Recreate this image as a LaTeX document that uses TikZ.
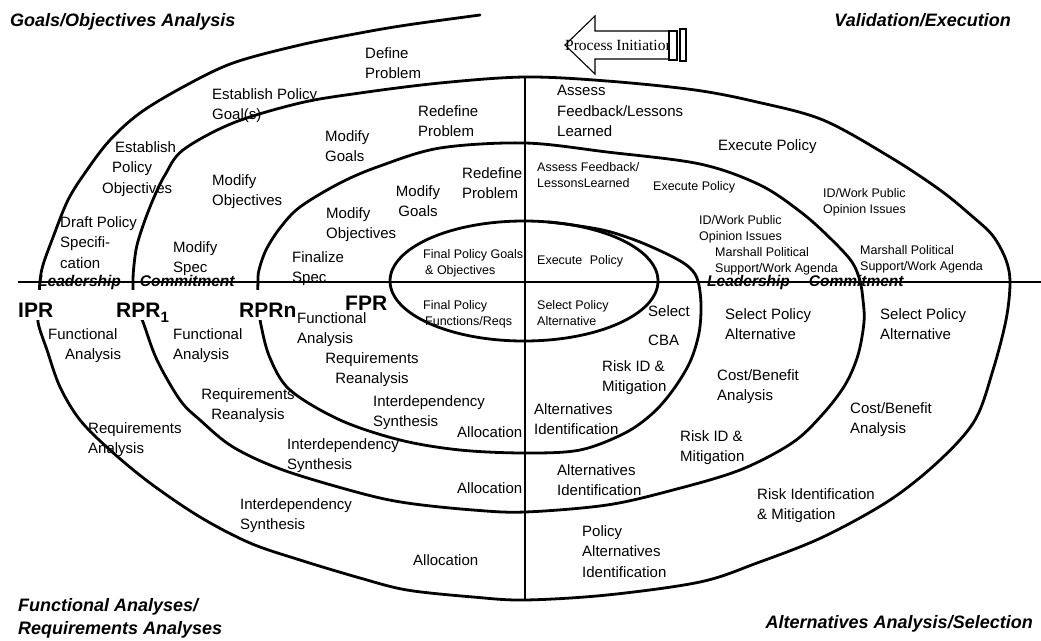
\documentclass[tikz,border=0pt]{standalone}
\usepackage{fontspec}
\setmainfont{Liberation Sans}
\newfontfamily\arrowfont{Liberation Serif}
\begin{document}
\begin{tikzpicture}[x=1pt,y=-1pt,
  lbl/.style={font=\fontsize{15}{20.5}\selectfont, align=left, anchor=north west, inner sep=0pt},
  lblc/.style={lbl, align=center, anchor=north},
  sml/.style={font=\fontsize{12.5}{16.3}\selectfont, align=left, anchor=north west, inner sep=0pt},
  corner/.style={font=\fontsize{18}{23.5}\selectfont\bfseries\itshape, align=left, inner sep=0pt},
  review/.style={font=\fontsize{21}{24}\selectfont\bfseries, anchor=base west, inner sep=0pt},
  reviewgap/.style={review, fill=white, inner xsep=1pt, text height=27pt, text depth=3pt},
  commit/.style={font=\fontsize{15.5}{18}\selectfont\bfseries\itshape, anchor=base west, inner sep=0pt},
  axisline/.style={line width=1.2pt},
  spiral/.style={line width=2.8pt, line cap=round, line join=round},
  arrowline/.style={line width=1.1pt, line join=miter},
]
\fill[white] (0,0) rectangle (1041,640);
\useasboundingbox (0,0) rectangle (1041,640);

% quadrant axes
\coordinate (hL) at (18,282);
\coordinate (hR) at (1041,282);
\coordinate (vT) at (525,77);
\coordinate (vB) at (525,600);
\draw[axisline] (hL) -- (hR);
\draw[axisline] (vT) -- (vB);

% the review spiral, from the initial review inward to the final one
\draw[spiral] plot[smooth, tension=0.55] coordinates {
  (480,15) (407,25) (360,33) (300,45) (233,63) (183,87) (140,113) (110,140)
  (87,170) (68,200) (52,240) (43,265) (40,281)
  (39,300) (38,322) (47,350) (60,387) (80,420) (110,450) (150,483) (200,517)
  (250,543) (300,560) (360,578) (407,590) (473,597) (525,600) (607,595)
  (700,582) (757,563) (823,537) (890,500) (940,460) (975,420) (993,370)
  (1006,320) (1010,283)
  (1006,260) (993,236) (973,217) (940,190) (890,157) (823,120) (757,102)
  (695,90) (607,81) (525,77) (440,83) (360,93) (300,103) (233,123) (183,150)
  (165,175) (155,195) (145,220) (137,245) (134,265) (133,281)
  (134,300) (143,322) (157,360) (180,400) (200,420) (233,447) (283,470)
  (360,493) (407,503) (473,510) (525,512) (607,505) (673,490) (740,470)
  (792,443) (822,415) (845,385) (858,355) (864,322) (863,300) (860,281)
  (852,262) (832,240) (802,213) (760,185) (700,164) (607,152) (525,143)
  (440,148) (380,166) (340,183) (300,207) (280,228) (266,250) (259,270) (258,281)
  (258,300) (261,325) (270,358) (290,390) (340,420) (400,440) (460,450)
  (525,453) (580,450) (625,433) (653,413) (673,390) (690,362) (699,333)
  (701,305) (698,281) (690,268) (673,257) (640,242) (607,231) (573,225) (548,222)
};
% final policy review
\draw[spiral] (524,281) ellipse [x radius=134, y radius=60];

% process initiation arrow
\draw[arrowline, fill=white] (565,45) -- (595,16) -- (595,31) -- (669,31)
  -- (669,59) -- (595,59) -- (595,74) -- cycle;
\node[font=\arrowfont\fontsize{15.5}{18}\selectfont, anchor=base west, inner sep=0pt]
  (init) at (565,50) {Process Initiation};
\draw[arrowline, fill=white] (669,31) rectangle (677,60);
\draw[arrowline, fill=white] (680,29) rectangle (686,61);

% quadrant titles
\node[corner, anchor=base west] (tGoals) at (10,26) {Goals/Objectives Analysis};
\node[corner, anchor=base east] (tValid) at (1011,26) {Validation/Execution};
\node[corner, anchor=north west] (tFunc) at (18,598) {Functional Analyses/\\Requirements Analyses};
\node[corner, anchor=base east] (tAlt) at (1033,628) {Alternatives Analysis/Selection};

% leadership commitment along the axis
\node[commit] (lcL) at (38,286) {Leadership\hspace{19pt}Commitment};
\node[commit] (lcR) at (707,286) {Leadership\hspace{19pt}Commitment};

% review points
\node[reviewgap] (ipr) at (17,317) {IPR};
\node[reviewgap] (rpr1) at (115,317) {RPR\raisebox{-5pt}{\fontsize{15}{15}\selectfont 1}};
\node[reviewgap] (rprn) at (238,317) {RPRn};
\node[review] (fpr) at (345,310) {FPR};

% goals / objectives analysis
\node[lbl] (a1) at (365,47) {Define\\Problem};
\node[lbl] (a2) at (212,88) {Establish Policy\\Goal(s)};
\node[lbl] (a3) at (102,141) {\hspace*{13pt}Establish\\\hspace*{10pt}Policy\\Objectives};
\node[lbl] (a4) at (60,216) {Draft Policy\\Specifi-\\cation};
\node[lbl] (a5) at (212,174) {Modify\\Objectives};
\node[lbl] (a6) at (173,241) {Modify\\Spec};
\node[lbl] (a7) at (325,130) {Modify\\Goals};
\node[lbl] (a8) at (418,105) {Redefine\\Problem};
\node[lblc] (a9) at (418,185) {Modify\\Goals};
\node[lbl] (a10) at (462,167) {Redefine\\Problem};
\node[lbl] (a11) at (326,207) {Modify\\Objectives};
\node[lbl] (a12) at (292,251) {Finalize\\Spec};
\node[sml] (a13) at (423,249) {Final Policy Goals\\\hspace*{2pt}\& Objectives};

% validation / execution
\node[lbl] (b1) at (557,85) {Assess\\Feedback/Lessons\\Learned};
\node[lbl] (b2) at (718,139) {Execute Policy};
\node[sml] (b3) at (537,162) {Assess Feedback/\\LessonsLearned};
\node[sml] (b4) at (653,181) {Execute Policy};
\node[sml] (b5) at (823,188) {ID/Work Public\\Opinion Issues};
\node[sml] (b6) at (699,215) {ID/Work Public\\Opinion Issues};
\node[sml] (b7) at (715,247) {Marshall Political\\Support/Work Agenda};
\node[sml] (b8) at (860,245) {Marshall Political\\Support/Work Agenda};
\node[sml] (b9) at (537,255) {Execute\hspace{4pt} Policy};

% functional / requirements analyses
\node[sml] (c0) at (423,300) {Final Policy\\\hspace*{2pt}Functions/Reqs};
\node[lbl] (c1) at (48,328) {Functional\\\hspace*{17pt}Analysis};
\node[lbl] (c2) at (173,328) {Functional\\Analysis};
\node[lbl] (c3) at (297,312) {Functional\\Analysis};
\node[lblc] (c4) at (372,352) {Requirements\\Reanalysis};
\node[lblc] (c5) at (248,388) {Requirements\\Reanalysis};
\node[lbl] (c6) at (88,422) {Requirements\\Analysis};
\node[lbl] (c7) at (373,395) {Interdependency\\Synthesis};
\node[lbl] (c8) at (457,426) {Allocation};
\node[lbl] (c9) at (287,438) {Interdependency\\Synthesis};
\node[lbl] (c10) at (457,482) {Allocation};
\node[lbl] (c11) at (240,498) {Interdependency\\Synthesis};
\node[lbl] (c12) at (413,554) {Allocation};

% alternatives analysis / selection
\node[sml] (d0) at (537,300) {Select Policy\\Alternative};
\node[lbl] (d1) at (648,305) {Select\\[8.5pt]CBA};
\node[lbl] (d2) at (602,360) {Risk ID \&\\Mitigation};
\node[lbl] (d3) at (534,403) {Alternatives\\Identification};
\node[lbl] (d4) at (725,308) {Select Policy\\Alternative};
\node[lbl] (d5) at (880,308) {Select Policy\\Alternative};
\node[lbl] (d6) at (717,369) {Cost/Benefit\\Analysis};
\node[lbl] (d7) at (850,402) {Cost/Benefit\\Analysis};
\node[lbl] (d8) at (680,430) {Risk ID \&\\Mitigation};
\node[lbl] (d9) at (557,464) {Alternatives\\Identification};
\node[lbl] (d10) at (757,488) {Risk Identification\\\& Mitigation};
\node[lbl] (d11) at (582,525) {Policy\\Alternatives\\Identification};
\end{tikzpicture}
\end{document}
